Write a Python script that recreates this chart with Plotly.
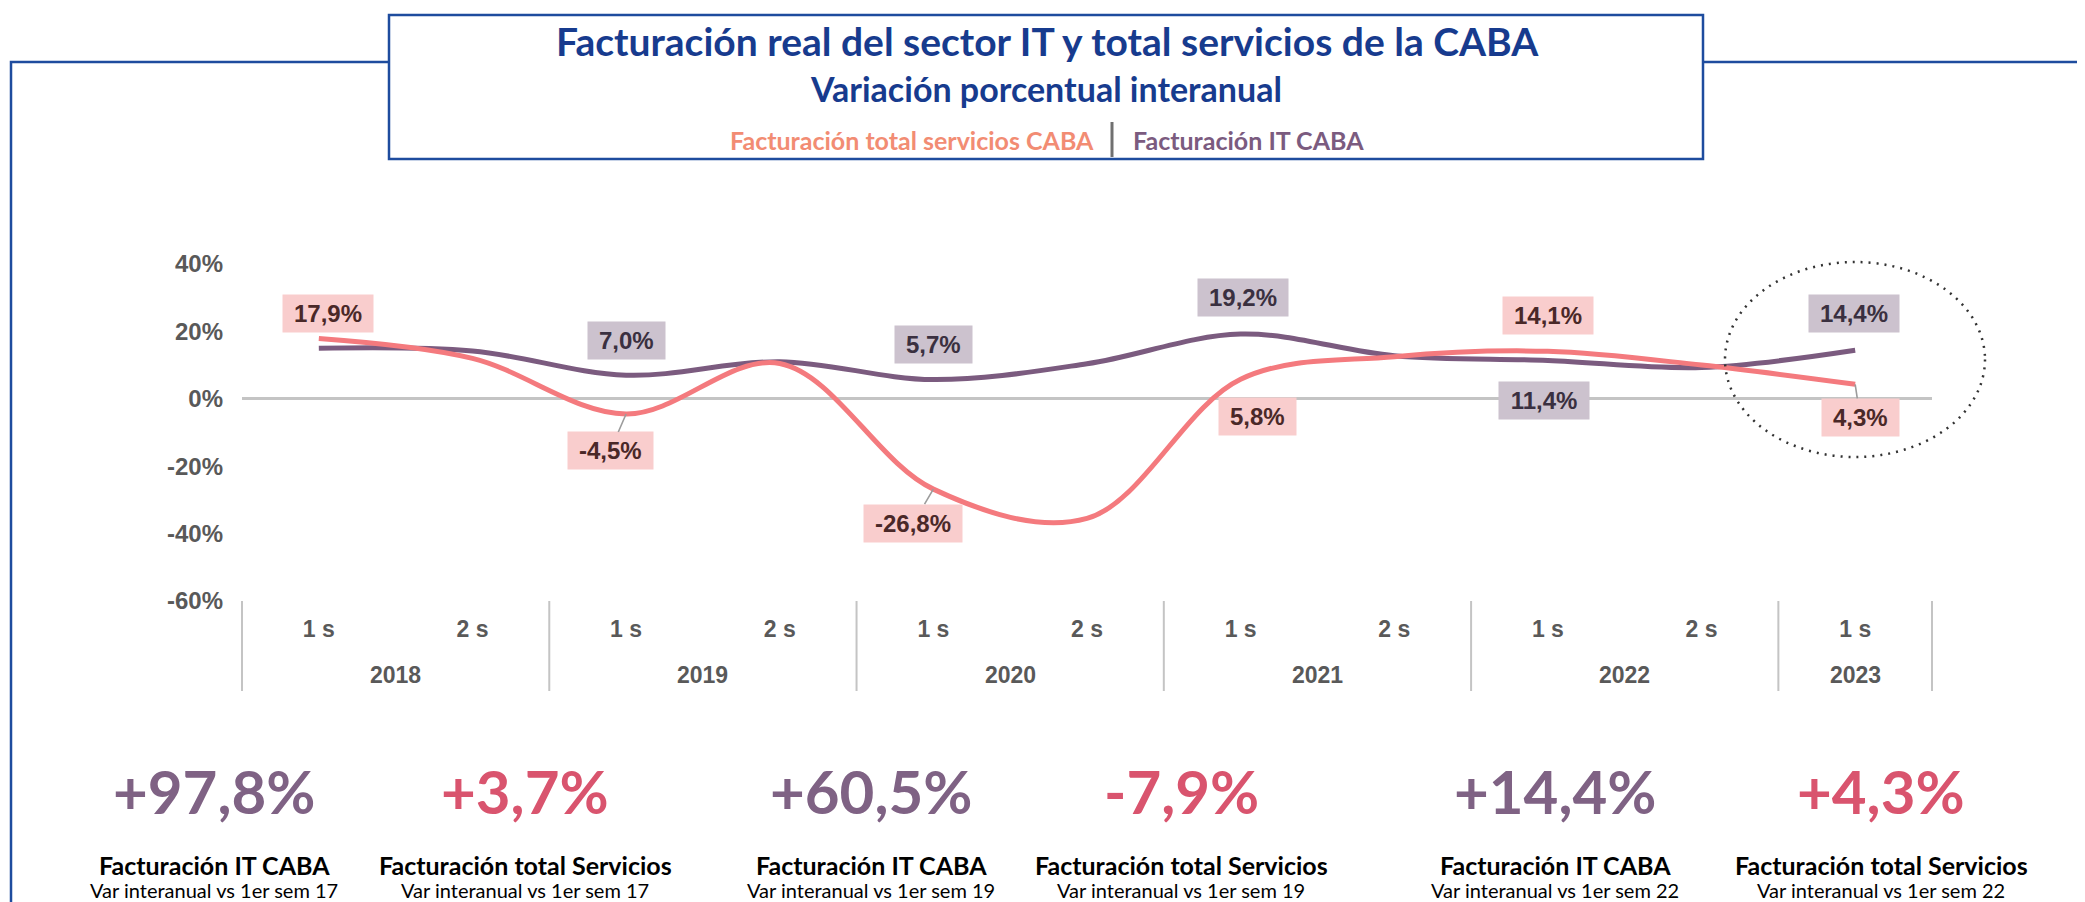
import plotly.graph_objects as go

# ---------------- data ----------------
years = ["2018", "2018", "2019", "2019", "2020", "2020", "2021", "2021", "2022", "2022", "2023"]
semesters = ["1 s", "2 s", "1 s", "2 s", "1 s", "2 s", "1 s", "2 s", "1 s", "2 s", "1 s"]
servicios = [17.9, 12.0, -4.5, 10.5, -26.8, -35.5, 5.8, 12.5, 14.1, 10.0, 4.3]
it_caba = [15.0, 14.2, 7.0, 11.0, 5.7, 10.4, 19.2, 12.8, 11.4, 9.3, 14.4]

serv_label_idx = [0, 2, 4, 6, 8, 10]
it_label_idx = [2, 4, 6, 8, 10]

y_ticks = [-60, -40, -20, 0, 20, 40]

stat_values = [97.8, 3.7, 60.5, -7.9, 14.4, 4.3]
stat_series = ["it", "serv", "it", "serv", "it", "serv"]
stat_titles = ["Facturación IT CABA", "Facturación total Servicios", "Facturación IT CABA",
               "Facturación total Servicios", "Facturación IT CABA", "Facturación total Servicios"]
stat_subs = ["Var interanual vs 1er sem 17", "Var interanual vs 1er sem 17",
             "Var interanual vs 1er sem 19", "Var interanual vs 1er sem 19",
             "Var interanual vs 1er sem 22", "Var interanual vs 1er sem 22"]

title = "Facturación real del sector IT y total servicios de la CABA"
subtitle = "Variación porcentual interanual"
name_serv = "Facturación total servicios CABA"
name_it = "Facturación IT CABA"

# ---------------- style ----------------
W, H = 2085, 902
L, R, T, B = 234, 161, 256, 309
PW, PH = W - L - R, H - T - B
DX, DY = -8, -7

PINK = "#F47A7E"
PURPLE = "#7B5B7F"
BLUE = "#1E4C9E"
TITLE_BLUE = "#173B8E"
GRAY = "#595959"

def px(xp):
    return (xp + DX - L) / PW

def py(yp):
    return (H - B - (yp + DY)) / PH

def fmt(v):
    return f"{v:.1f}".replace(".", ",") + "%"

def text_w(s, size):
    m = {",": 0.278, "%": 0.889, "-": 0.333}
    return sum(m.get(c, 0.556) for c in s) * size

x = list(range(len(semesters)))

fig = go.Figure()
fig.add_trace(go.Scatter(x=x, y=it_caba, mode="lines", name=name_it,
                         line=dict(color=PURPLE, width=5, shape="spline", smoothing=1.0),
                         hoverinfo="skip"))
fig.add_trace(go.Scatter(x=x, y=servicios, mode="lines", name=name_serv,
                         line=dict(color=PINK, width=5, shape="spline", smoothing=1.0),
                         hoverinfo="skip"))

annotations = []
shapes = []

# data labels
serv_offsets = [(9, -25), (-16, 37), (-20, 34), (17, 37), (0, -36), (5, 33)]
serv_leader = [False, True, True, True, False, True]
it_offsets = [(0, -35), (0, -35), (2, -37), (-4, 40), (-1, -37)]
LBL = 24
for i, (ax_, ay_), lead in zip(serv_label_idx, serv_offsets, serv_leader):
    t = fmt(servicios[i])
    annotations.append(dict(
        x=x[i], y=servicios[i], xref="x", yref="y", text=f"<b>{t}</b>",
        showarrow=True, ax=ax_, ay=ay_, arrowhead=0, arrowwidth=1.6, standoff=0,
        arrowcolor="#9C9C9C" if lead else "rgba(0,0,0,0)",
        bgcolor="#F9CDCD", borderpad=3, width=text_w(t, LBL) + 16, height=31,
        font=dict(family="Liberation Sans, Arial", size=LBL, color="#4A2828")))
for i, (ax_, ay_) in zip(it_label_idx, it_offsets):
    t = fmt(it_caba[i])
    annotations.append(dict(
        x=x[i], y=it_caba[i], xref="x", yref="y", text=f"<b>{t}</b>",
        showarrow=True, ax=ax_, ay=ay_, arrowhead=0, arrowwidth=1.6, standoff=0,
        arrowcolor="rgba(0,0,0,0)",
        bgcolor="#CCC2CE", borderpad=3, width=text_w(t, LBL) + 16, height=31,
        font=dict(family="Liberation Sans, Arial", size=LBL, color="#3A3040")))

# year group labels and dividers
groups = []
for i, yv in enumerate(years):
    if not groups or groups[-1][0] != yv:
        groups.append([yv, i, i])
    else:
        groups[-1][2] = i
n = len(x)
bounds = sorted(set([g[1] for g in groups] + [n]))
for b in bounds:
    shapes.append(dict(type="line", xref="paper", yref="paper", x0=b / n, x1=b / n,
                       y0=0, y1=py(690), line=dict(color="#C4C4C4", width=2)))
for yv, a, b in groups:
    annotations.append(dict(x=(a + b) / 2, y=py(674), xref="x", yref="paper", text=f"<b>{yv}</b>",
                            showarrow=False, xanchor="center", yanchor="middle",
                            font=dict(family="Liberation Sans, Arial", size=23, color=GRAY)))

# outer frame and title box
shapes.append(dict(type="rect", xref="paper", yref="paper", x0=px(11), x1=px(2073 - DX),
                   y0=py(940), y1=py(61), line=dict(color=BLUE, width=2.5), layer="above"))
shapes.append(dict(type="rect", xref="paper", yref="paper", x0=px(389), x1=px(1703),
                   y0=py(158), y1=py(14), line=dict(color=BLUE, width=2.5), fillcolor="white",
                   layer="above"))
# highlight ellipse
shapes.append(dict(type="circle", xref="paper", yref="paper", x0=px(1725), x1=px(1985),
                   y0=py(456), y1=py(261), line=dict(color="#333333", width=2.5, dash="2px,6px"),
                   layer="above"))
# legend separator
shapes.append(dict(type="line", xref="paper", yref="paper", x0=px(1112), x1=px(1112),
                   y0=py(156), y1=py(121), line=dict(color="#707070", width=3), layer="above"))

TF = "Lato, Open Sans, sans-serif"
annotations.append(dict(x=px(1047), y=py(40), xref="paper", yref="paper", text=f"<b>{title}</b>",
                        showarrow=False, xanchor="center", yanchor="middle",
                        font=dict(family=TF, size=39, color=TITLE_BLUE)))
annotations.append(dict(x=px(1046), y=py(88), xref="paper", yref="paper", text=f"<b>{subtitle}</b>",
                        showarrow=False, xanchor="center", yanchor="middle",
                        font=dict(family=TF, size=34, color=TITLE_BLUE)))
annotations.append(dict(x=px(1096), y=py(139), xref="paper", yref="paper", text=f"<b>{name_serv}</b>",
                        showarrow=False, yanchor="middle", xanchor="right",
                        font=dict(family=TF, size=25, color="#F28C73")))
annotations.append(dict(x=px(1131), y=py(139), xref="paper", yref="paper", text=f"<b>{name_it}</b>",
                        showarrow=False, yanchor="middle", xanchor="left",
                        font=dict(family=TF, size=25, color=PURPLE)))

# bottom statistics
stat_x = [214, 525, 871, 1181, 1555, 1881]
stat_colors = {"it": "#7F6284", "serv": "#D9546E"}
for xc, v, s, t, sub in zip(stat_x, stat_values, stat_series, stat_titles, stat_subs):
    sign = "+" if v >= 0 else "-"
    vt = sign + f"{abs(v):.1f}".replace(".", ",") + "%"
    annotations.append(dict(x=px(xc), y=py(790), xref="paper", yref="paper", text=f"<b>{vt}</b>",
                            showarrow=False, xanchor="center", yanchor="middle",
                            font=dict(family=TF, size=60, color=stat_colors[s])))
    annotations.append(dict(x=px(xc), y=py(864), xref="paper", yref="paper", text=f"<b>{t}</b>",
                            showarrow=False, xanchor="center", yanchor="middle",
                            font=dict(family=TF, size=25, color="#000000")))
    annotations.append(dict(x=px(xc), y=py(889), xref="paper", yref="paper", text=sub,
                            showarrow=False, xanchor="center", yanchor="middle",
                            font=dict(family=TF, size=20, color="#000000")))

fig.update_layout(
    width=W, height=H, autosize=False,
    margin=dict(l=L, r=R, t=T, b=B, pad=0),
    paper_bgcolor="white", plot_bgcolor="white",
    showlegend=False,
    annotations=annotations, shapes=shapes,
    xaxis=dict(range=[-0.5, n - 0.5], tickmode="array", tickvals=x, ticktext=[f"<b>{s}</b>" for s in semesters],
               showgrid=False, zeroline=False, showline=False, ticks="", ticklabelstandoff=12,
               tickfont=dict(family="Liberation Sans, Arial", size=23, color=GRAY), fixedrange=True),
    yaxis=dict(range=[-60, 40], tickmode="array", tickvals=y_ticks,
               ticktext=[f"<b>{v}%</b>" for v in y_ticks],
               showgrid=False, zeroline=True, zerolinecolor="#C4C4C4", zerolinewidth=3,
               showline=False, ticks="", ticklabelstandoff=18,
               tickfont=dict(family="Liberation Sans, Arial", size=24, color=GRAY), fixedrange=True),
)

fig.write_html("out.html")
